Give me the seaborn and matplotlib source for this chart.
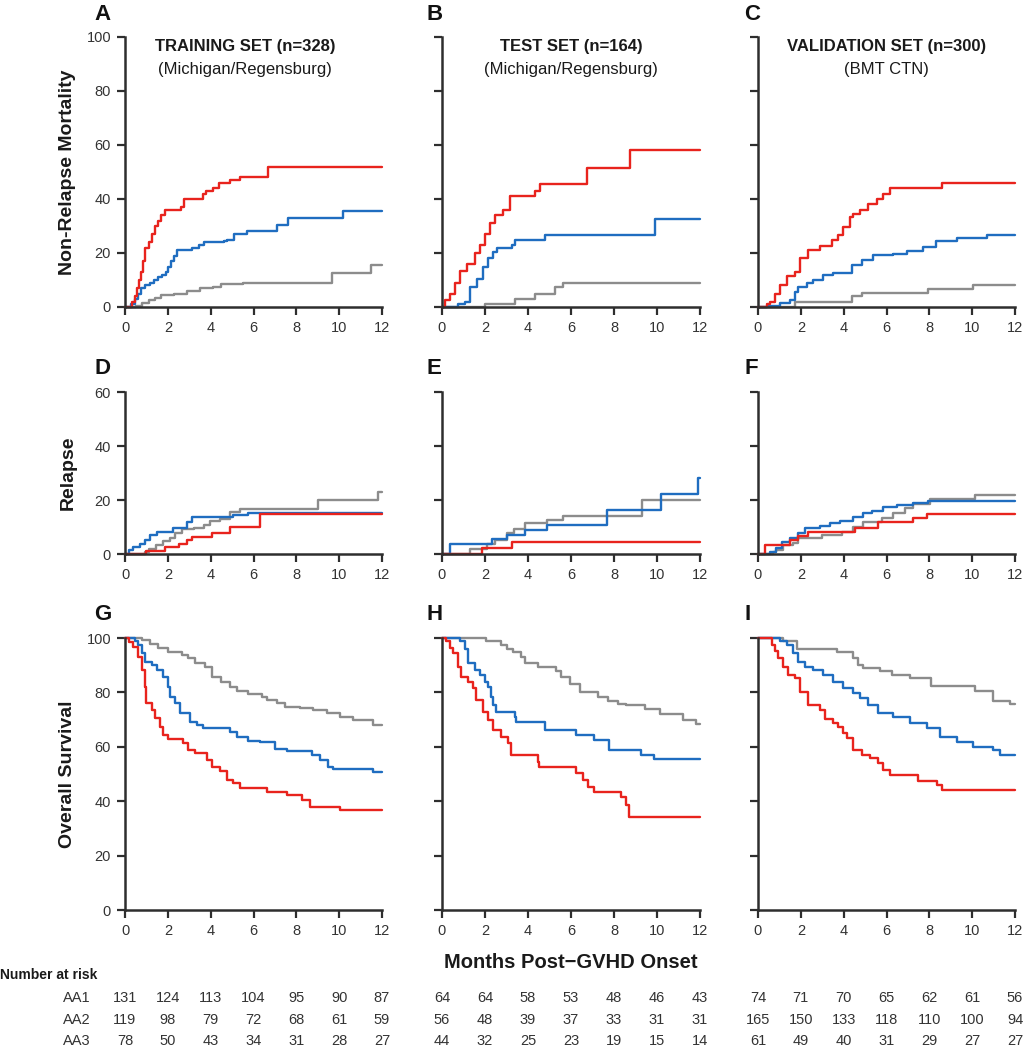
"""
Cumulative incidence / survival by Ann Arbor score
Training, test and validation cohorts
"""

import matplotlib.pyplot as plt
import matplotlib.transforms as mtransforms
import seaborn as sns
import pandas as pd

sns.set_style("white")
plt.rcParams['font.family'] = ['Liberation Sans', 'DejaVu Sans']

# ---------------------------------------------------------------
# Data (months, percent); steps drawn post
# ---------------------------------------------------------------
# A - non-relapse mortality, training
nrm_train_aa1_t = [0, 0.5, 0.8, 1.1, 1.4, 1.7, 2.3, 2.9, 3.5, 4.1, 4.5, 5.5, 9.65, 11.5, 12]
nrm_train_aa1_v = [0, 0.5, 1.5, 2.5, 3.5, 4.5, 5, 6, 7, 7.5, 8.5, 9, 12.5, 15.5, 15.5]
nrm_train_aa2_t = [0, 0.3, 0.45, 0.6, 0.75, 0.95, 1.15, 1.35, 1.55, 1.75, 1.9, 2.0, 2.15, 2.3,
                   2.45, 3.15, 3.45, 3.7, 4.6, 4.75, 5.1, 5.7, 7.1, 7.6, 10.2, 12]
nrm_train_aa2_v = [0, 1, 3, 5, 7, 8, 9, 10, 11, 12, 13, 15, 17, 19,
                   21, 22, 23, 24, 24.5, 25, 27, 28, 30.5, 33, 35.5, 35.5]
nrm_train_aa3_t = [0, 0.35, 0.45, 0.55, 0.65, 0.75, 0.85, 0.95, 1.1, 1.25, 1.4, 1.55, 1.7, 1.85,
                   2.6, 2.75, 3.65, 3.8, 4.1, 4.4, 4.9, 5.35, 6.7, 12]
nrm_train_aa3_v = [0, 2, 4, 7, 10, 13, 17, 22, 24, 27, 30, 32, 34, 36,
                   37, 40, 42, 43, 44, 46, 47, 48, 52, 52]

# B - non-relapse mortality, test
nrm_test_aa1_t = [0, 2.0, 3.4, 4.33, 5.26, 5.64, 12]
nrm_test_aa1_v = [0, 1, 3, 5, 7.5, 9, 9]
nrm_test_aa2_t = [0, 0.75, 1.07, 1.3, 1.61, 1.92, 2.15, 2.38, 2.54, 3.24, 3.4, 4.79, 9.9, 12]
nrm_test_aa2_v = [0, 1, 2, 7.5, 10.5, 14.8, 18, 20.5, 21.7, 23, 25, 26.7, 32.5, 32.5]
nrm_test_aa3_t = [0, 0.15, 0.37, 0.6, 0.84, 1.15, 1.53, 1.77, 2.0, 2.23, 2.47, 2.85, 3.16,
                  4.33, 4.56, 6.73, 8.74, 12]
nrm_test_aa3_v = [0, 2.5, 5, 9, 13.5, 16, 20, 23, 27, 31, 34, 36, 41,
                  43, 45.5, 51.5, 58, 58]

# C - non-relapse mortality, validation
nrm_valid_aa1_t = [0, 1.73, 4.37, 4.84, 7.95, 10.05, 12]
nrm_valid_aa1_v = [0, 2, 4, 5.3, 6.5, 8, 8]
nrm_valid_aa2_t = [0, 0.4, 1.03, 1.49, 1.73, 1.89, 2.27, 2.58, 3.05, 3.52, 4.37, 4.84, 5.38,
                   6.32, 6.95, 7.7, 8.33, 9.27, 10.67, 12]
nrm_valid_aa2_v = [0, 0.5, 1.5, 2.5, 5.5, 7.3, 8.8, 10, 11.9, 12.7, 15.6, 17.4, 19.3,
                   19.6, 20.9, 22.1, 24.6, 25.4, 26.7, 26.7]
nrm_valid_aa3_t = [0, 0.4, 0.55, 0.79, 1.03, 1.34, 1.73, 1.96, 2.35, 2.89, 3.44, 3.75, 3.99,
                   4.3, 4.45, 4.76, 5.15, 5.54, 5.85, 6.16, 8.57, 12]
nrm_valid_aa3_v = [0, 1, 2, 5, 8, 11.5, 13, 18, 21, 22.5, 25, 26.5, 29.5,
                   33.5, 34.5, 36, 38, 40, 42, 44, 46, 46]

# D - relapse, training
rel_train_aa1_t = [0, 0.95, 1.1, 1.45, 1.78, 2.1, 2.33, 2.65, 3.2, 3.67, 3.97, 4.43, 4.9,
                   5.37, 9.03, 11.83, 12]
rel_train_aa1_v = [0, 0.8, 1.9, 3.5, 4.7, 5.9, 7.8, 9.2, 9.8, 10.6, 12.2, 13.1, 15.7,
                   16.5, 20, 23, 23]
rel_train_aa2_t = [0, 0.2, 0.39, 0.7, 0.93, 1.17, 1.48, 2.26, 2.9, 3.11, 5.05, 5.76, 12]
rel_train_aa2_v = [0, 1.5, 2.7, 3.7, 5.2, 7, 8.3, 9.8, 12, 13.6, 14.4, 15.3, 15.3]
rel_train_aa3_t = [0, 1.0, 1.87, 2.5, 2.9, 3.15, 4.04, 4.9, 6.3, 12]
rel_train_aa3_v = [0, 1.2, 2.5, 3.7, 5.2, 6.4, 7.7, 10.1, 15, 15]

# E - relapse, test
rel_test_aa1_t = [0, 1.3, 2.08, 2.48, 3.02, 3.33, 3.86, 4.87, 5.64, 9.29, 12]
rel_test_aa1_v = [0, 1.7, 3.7, 5.2, 7.7, 9.2, 11.3, 12.6, 14.1, 20, 20]
rel_test_aa2_t = [0, 0.37, 2.31, 3.0, 3.86, 4.87, 7.66, 10.2, 11.92, 12]
rel_test_aa2_v = [0, 3.7, 5.4, 7, 8.9, 10.7, 16.3, 22.2, 28, 28]
rel_test_aa3_t = [0, 1.84, 3.24, 12]
rel_test_aa3_v = [0, 2.1, 4.6, 4.6]

# F - relapse, validation
rel_valid_aa1_t = [0, 0.7, 0.86, 1.17, 1.64, 1.89, 2.97, 3.91, 4.45, 4.92, 5.78, 6.32, 6.85,
                   7.25, 8.02, 10.12, 12]
rel_valid_aa1_v = [0, 0.7, 1.5, 3.3, 4.2, 5.8, 7, 8.3, 10.1, 12, 13.2, 15.1, 17,
                   18.6, 20.5, 21.9, 21.9]
rel_valid_aa2_t = [0, 0.55, 0.86, 1.1, 1.49, 1.89, 2.2, 2.9, 3.36, 3.83, 4.45, 4.92, 5.3,
                   5.85, 6.47, 7.25, 7.95, 12]
rel_valid_aa2_v = [0, 0.8, 2.1, 4.6, 5.8, 7.7, 9.5, 10.4, 11.3, 12.3, 13.6, 15.1, 16,
                   17.3, 18.1, 18.8, 19.8, 19.8]
rel_valid_aa3_t = [0, 0.33, 1.5, 1.89, 2.35, 4.53, 5.62, 7.25, 7.87, 12]
rel_valid_aa3_v = [0, 3.3, 5.2, 6.7, 8.3, 9.5, 12, 13.2, 14.7, 14.7]

# G - overall survival, training
os_train_aa1_t = [0, 0.78, 1.17, 1.56, 2.02, 2.65, 2.96, 3.27, 3.74, 4.05, 4.5, 4.9, 5.21,
                  5.76, 6.38, 6.62, 7.08, 7.47, 8.17, 8.8, 9.42, 10.04, 10.66, 11.6, 12]
os_train_aa1_v = [100, 99.4, 97.8, 96.2, 94.9, 93.8, 92.5, 90.9, 89.5, 85.8, 83.9, 82.1, 80.6,
                  79.4, 78.4, 77.2, 76.2, 74.7, 74.1, 73.5, 72.3, 70.8, 69.9, 68, 68]
os_train_aa2_t = [0, 0.45, 0.62, 0.78, 0.93, 1.24, 1.48, 1.79, 2.02, 2.1, 2.33, 2.57, 3.03,
                  3.35, 3.66, 4.9, 5.21, 5.76, 6.3, 7.0, 7.55, 8.71, 9.1, 9.49, 9.72, 11.6, 12]
os_train_aa2_v = [100, 98.8, 97.4, 94.4, 91.3, 90.1, 88.2, 85.8, 82.1, 78.4, 76, 72.3, 69.2,
                  68, 67, 65.6, 63.7, 62.2, 61.9, 59.2, 58.6, 57, 55.1, 52.7, 51.7, 50.8, 50.8]
os_train_aa3_t = [0, 0.2, 0.39, 0.62, 0.78, 0.93, 1.0, 1.24, 1.4, 1.63, 1.79, 2.02, 2.72,
                  2.96, 3.27, 3.81, 4.05, 4.43, 4.75, 5.06, 5.37, 6.62, 7.55, 8.25, 8.64, 10.04, 12]
os_train_aa3_v = [100, 98.5, 96.8, 93.1, 88.2, 82.1, 76, 73.5, 70.5, 67.4, 64.3, 62.7, 61.3,
                  58.8, 57.8, 55.1, 52.7, 51.2, 47.8, 46.6, 44.7, 43.5, 42.3, 40.4, 38, 36.8, 36.8]

# H - overall survival, test
os_test_aa1_t = [0, 2.05, 2.76, 3.0, 3.3, 3.69, 3.84, 4.46, 5.32, 5.55, 5.94, 6.4, 7.25,
                 7.72, 8.18, 8.57, 9.43, 10.14, 11.22, 11.8, 12]
os_test_aa1_v = [100, 98.8, 97.6, 96, 94.8, 92.9, 90.7, 89.2, 88, 85.5, 83.1, 80, 78.2,
                 77, 75.7, 75.4, 73.9, 72.1, 69.9, 68.5, 68.5]
os_test_aa2_t = [0, 0.82, 1.05, 1.21, 1.52, 1.75, 1.98, 2.14, 2.29, 2.37, 2.53, 3.38, 3.46,
                 4.77, 6.23, 7.08, 7.78, 9.25, 9.87, 12]
os_test_aa2_v = [100, 98.8, 96, 90.7, 88.2, 86.4, 83.9, 82.1, 78.4, 75.4, 72.9, 71.1, 69.2,
                 66.2, 64.3, 62.5, 58.8, 57, 55.4, 55.4]
os_test_aa3_t = [0, 0.2, 0.36, 0.51, 0.74, 0.9, 1.21, 1.44, 1.6, 1.91, 2.14, 2.37, 2.76,
                 3.07, 3.22, 4.46, 4.53, 6.23, 6.54, 6.77, 7.08, 8.32, 8.55, 8.71, 12]
os_test_aa3_v = [100, 98.8, 96.3, 94.4, 89.5, 85.8, 83.9, 81.5, 77.2, 72.9, 69.9, 66.2, 63.7,
                 61.3, 57, 54.5, 52.5, 50.2, 47.8, 45.3, 43.5, 41.7, 38.6, 34.1, 34.1]

# I - overall survival, validation
os_valid_aa1_t = [0, 1.18, 1.81, 3.68, 4.45, 4.69, 4.92, 5.7, 6.24, 7.1, 8.1, 10.13, 10.99,
                  11.77, 12]
os_valid_aa1_v = [100, 98.8, 96, 94.8, 92.7, 90.2, 89, 87.8, 86.5, 85.3, 82.2, 80.4, 76.7,
                  75.7, 75.7]
os_valid_aa2_t = [0, 1.03, 1.34, 1.65, 1.89, 2.2, 2.58, 3.05, 3.52, 3.98, 4.45, 4.76, 5.15,
                  5.62, 6.32, 7.1, 7.87, 8.49, 9.27, 10.05, 10.99, 11.3, 12]
os_valid_aa2_v = [100, 98.8, 97.6, 94.4, 91.3, 89.5, 88.2, 86.4, 83.9, 81.5, 79.7, 77.8, 75.4,
                  72.6, 71.1, 68.6, 66.8, 63.7, 61.9, 60, 58.8, 57, 57]
os_valid_aa3_t = [0, 0.64, 0.79, 0.95, 1.18, 1.42, 1.73, 1.96, 2.35, 2.89, 3.13, 3.52, 3.75,
                  3.99, 4.14, 4.45, 4.84, 5.23, 5.62, 5.85, 6.16, 7.48, 8.34, 8.57, 12]
os_valid_aa3_v = [100, 97.6, 95.1, 92.7, 89.5, 86.4, 85.3, 80, 75.4, 73.5, 70.1, 68.6, 67.4,
                  65, 63.1, 58.8, 57, 55.8, 53.9, 51.5, 49.6, 47.5, 46, 44.1, 44.1]

# Number at risk
risk_months = [0, 2, 4, 6, 8, 10, 12]
risk_train_aa1 = [131, 124, 113, 104, 95, 90, 87]
risk_train_aa2 = [119, 98, 79, 72, 68, 61, 59]
risk_train_aa3 = [78, 50, 43, 34, 31, 28, 27]
risk_test_aa1 = [64, 64, 58, 53, 48, 46, 43]
risk_test_aa2 = [56, 48, 39, 37, 33, 31, 31]
risk_test_aa3 = [44, 32, 25, 23, 19, 15, 14]
risk_valid_aa1 = [74, 71, 70, 65, 62, 61, 56]
risk_valid_aa2 = [165, 150, 133, 118, 110, 100, 94]
risk_valid_aa3 = [61, 49, 40, 31, 29, 27, 27]

groups = ['AA1', 'AA2', 'AA3']
palette = {'AA1': '#8c8c8c', 'AA2': '#1f6dc0', 'AA3': '#e8231d'}
AXIS_COLOR = '#2e2e2e'
TEXT_COLOR = '#333333'

W, H = 1025, 1050


def px_rect(left, top, right, bottom):
    """Pixel box -> figure fraction rect"""
    return [left / W, 1 - bottom / H, (right - left) / W, (bottom - top) / H]


def make_df(curves):
    frames = []
    for name, (t, v) in zip(groups, curves):
        frames.append(pd.DataFrame({'month': t, 'pct': v, 'group': name}))
    return pd.concat(frames, ignore_index=True)


def draw_panel(ax, curves, ymax, show_ylabels):
    df = make_df(curves)
    sns.lineplot(data=df, x='month', y='pct', hue='group', hue_order=groups,
                 palette=palette, estimator=None, sort=False, legend=False,
                 drawstyle='steps-post', linewidth=1.7, ax=ax, clip_on=False)
    ax.set_xlim(0, 12)
    ax.set_ylim(0, ymax)
    ax.set_xticks(range(0, 13, 2))
    ax.set_yticks(range(0, ymax + 1, 20))
    ax.set_xlabel('')
    ax.set_ylabel('')
    for side in ['top', 'right']:
        ax.spines[side].set_visible(False)
    for side in ['left', 'bottom']:
        ax.spines[side].set_linewidth(1.8)
        ax.spines[side].set_color(AXIS_COLOR)
    ax.tick_params(direction='out', length=6, width=1.6, color=AXIS_COLOR,
                   labelsize=10.5, labelcolor=TEXT_COLOR, pad=4,
                   left=True, bottom=True, labelleft=show_ylabels)


fig = plt.figure(figsize=(W / 100, H / 100), dpi=100)

col_px = [(125, 382), (442, 700), (758, 1015)]
row_px = [(37, 307), (392, 554), (638, 910)]
row_ymax = [100, 60, 100]

panel_data = [
    [[(nrm_train_aa1_t, nrm_train_aa1_v), (nrm_train_aa2_t, nrm_train_aa2_v), (nrm_train_aa3_t, nrm_train_aa3_v)],
     [(nrm_test_aa1_t, nrm_test_aa1_v), (nrm_test_aa2_t, nrm_test_aa2_v), (nrm_test_aa3_t, nrm_test_aa3_v)],
     [(nrm_valid_aa1_t, nrm_valid_aa1_v), (nrm_valid_aa2_t, nrm_valid_aa2_v), (nrm_valid_aa3_t, nrm_valid_aa3_v)]],
    [[(rel_train_aa1_t, rel_train_aa1_v), (rel_train_aa2_t, rel_train_aa2_v), (rel_train_aa3_t, rel_train_aa3_v)],
     [(rel_test_aa1_t, rel_test_aa1_v), (rel_test_aa2_t, rel_test_aa2_v), (rel_test_aa3_t, rel_test_aa3_v)],
     [(rel_valid_aa1_t, rel_valid_aa1_v), (rel_valid_aa2_t, rel_valid_aa2_v), (rel_valid_aa3_t, rel_valid_aa3_v)]],
    [[(os_train_aa1_t, os_train_aa1_v), (os_train_aa2_t, os_train_aa2_v), (os_train_aa3_t, os_train_aa3_v)],
     [(os_test_aa1_t, os_test_aa1_v), (os_test_aa2_t, os_test_aa2_v), (os_test_aa3_t, os_test_aa3_v)],
     [(os_valid_aa1_t, os_valid_aa1_v), (os_valid_aa2_t, os_valid_aa2_v), (os_valid_aa3_t, os_valid_aa3_v)]],
]

letters = [['A', 'B', 'C'], ['D', 'E', 'F'], ['G', 'H', 'I']]
letter_x = [94, 426, 744]
letter_y = [15, 368, 615]

axes = [[None] * 3 for _ in range(3)]
for r in range(3):
    for c in range(3):
        left, right = col_px[c]
        top, bottom = row_px[r]
        ax = fig.add_axes(px_rect(left, top, right, bottom))
        draw_panel(ax, panel_data[r][c], row_ymax[r], show_ylabels=(c == 0))
        axes[r][c] = ax
        fig.text(letter_x[c] / W, 1 - letter_y[r] / H, letters[r][c],
                 fontsize=16, fontweight='bold', ha='left', va='center', color='#111111')

# Column titles
titles = [('TRAINING SET (n=328)', '(Michigan/Regensburg)', 0.467),
          ('TEST SET (n=164)', '(Michigan/Regensburg)', 0.5),
          ('VALIDATION SET (n=300)', '(BMT CTN)', 0.5)]
for c, (t1, t2, xpos) in enumerate(titles):
    ax = axes[0][c]
    ax.text(xpos, 0.963, t1, transform=ax.transAxes, ha='center', va='center',
            fontsize=12, fontweight='bold', color='#1a1a1a')
    ax.text(xpos, 0.878, t2, transform=ax.transAxes, ha='center', va='center',
            fontsize=12, color='#1a1a1a')

# Row labels
ylabels = ['Non-Relapse Mortality', 'Relapse', 'Overall Survival']
for r, lab in enumerate(ylabels):
    top, bottom = row_px[r]
    fig.text(68 / W, 1 - (top + bottom) / 2 / H, lab, rotation=90, ha='center', va='center',
             fontsize=14, fontweight='bold', color='#1a1a1a')

fig.text(571 / W, 1 - 962 / H, 'Months Post\u2212GVHD Onset', ha='center', va='center',
         fontsize=14.5, fontweight='bold', color='#1a1a1a')

# Number at risk table
fig.text(0, 1 - 975 / H, 'Number at risk', ha='left', va='center',
         fontsize=10, fontweight='bold', color='#1a1a1a')
risk_rows = [
    [risk_train_aa1, risk_test_aa1, risk_valid_aa1],
    [risk_train_aa2, risk_test_aa2, risk_valid_aa2],
    [risk_train_aa3, risk_test_aa3, risk_valid_aa3],
]
row_y = [998, 1020, 1041]
for i, name in enumerate(groups):
    fig.text(63 / W, 1 - row_y[i] / H, name, ha='left', va='center',
             fontsize=10.5, color=TEXT_COLOR)
    for c in range(3):
        ax = axes[2][c]
        trans = mtransforms.blended_transform_factory(ax.transData, fig.transFigure)
        for m, n in zip(risk_months, risk_rows[i][c]):
            ax.text(m, 1 - row_y[i] / H, str(n), transform=trans, ha='center', va='center',
                    fontsize=10.5, color=TEXT_COLOR, clip_on=False)

plt.savefig('out.png', dpi=100)
